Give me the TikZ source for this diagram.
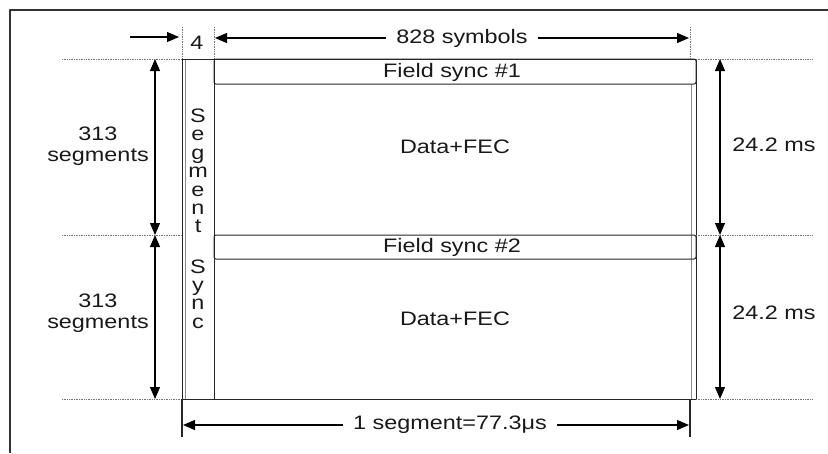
\documentclass[tikz,border=0pt]{standalone}
\usepackage{fontspec}
\setmainfont{Liberation Sans}[FakeStretch=1.2]
\usetikzlibrary{arrows.meta}
\newcommand{\lblfont}{\fontsize{19.5}{21}\selectfont}
\newcommand{\stackfont}{\fontsize{19.5}{18.4}\selectfont}
\begin{document}
\begin{tikzpicture}[x=1pt,y=-1pt,line join=round,
  frame/.style={draw=black!85,line width=1pt},
  faint/.style={draw=black!45,line width=0.9pt},
  guide/.style={draw=black!55,densely dotted,line width=0.7pt},
  tick/.style={draw=black!85,line width=1.1pt},
  dimarrow/.style={draw=black,line width=1.3pt,-{Triangle[length=12pt,width=10pt]}},
  dimboth/.style={draw=black,line width=1.3pt,{Triangle[length=12pt,width=10pt]}-{Triangle[length=12pt,width=10pt]}},
  lbl/.style={font=\lblfont,inner sep=0pt,text=black!90},
  gaplbl/.style={lbl,fill=white,inner xsep=10pt,inner ysep=2pt},
  vlbl/.style={inner sep=0pt,text=black!90,align=center,font=\stackfont},
  twoline/.style={inner sep=0pt,text=black!90,align=center,font=\lblfont}]
\useasboundingbox (0,0) rectangle (828,453);

% page frame (top and left edges only)
\draw[black!80,line width=1.5pt] (10,453) -- (10,10) -- (828,10);

% key points of the frame structure
\coordinate (TL) at (182,59);
\coordinate (SR) at (214,59);
\coordinate (TR) at (696,59);
\coordinate (ML) at (182,235);
\coordinate (MR) at (696,235);
\coordinate (BL) at (182,399);
\coordinate (BR) at (696,399);

% segment sync column
\draw[faint] (185,59) -- (185,399);
\draw[frame] (TL) rectangle (214,399);

% data area
\draw[frame] (SR) -- (TR) -- (BR) -- (BL);
\draw[faint] (691,84) -- (691,399);

% field sync rows
\draw[frame,rounded corners=2pt] (SR) rectangle (696,84);
\draw[frame,rounded corners=2pt] (214,235) rectangle (696,259);

\node[lbl] (fs1) at (452,72) {Field sync \#1};
\node[lbl] (fs2) at (452,247) {Field sync \#2};
\node[lbl] (d1) at (455,147) {Data+FEC};
\node[lbl] (d2) at (455,319) {Data+FEC};

\node[vlbl] (segword) at (198,171) {S\\e\\g\\m\\e\\n\\t};
\node[vlbl] (syncword) at (198,294) {S\\y\\n\\c};

% dotted extension lines
\draw[guide] (62,59) -- (TL);
\draw[guide] (62,235) -- (ML);
\draw[guide] (62,399) -- (BL);
\draw[guide] (TR) -- (813,59);
\draw[guide] (MR) -- (813,235);
\draw[guide] (BR) -- (813,399);

% left dimensions
\coordinate (la) at (155,59);
\coordinate (lb) at (155,235);
\coordinate (lc) at (155,399);
\draw[dimboth] (la) -- (lb);
\draw[dimboth] (lb) -- (lc);
\node[twoline] (seg1) at (98,146) {313\\segments};
\node[twoline] (seg2) at (98,313) {313\\segments};

% right dimensions
\coordinate (ra) at (720,59);
\coordinate (rb) at (720,235);
\coordinate (rc) at (720,399);
\draw[dimboth] (ra) -- (rb);
\draw[dimboth] (rb) -- (rc);
\node[lbl] (ms1) at (774,145) {24.2 ms};
\node[lbl] (ms2) at (774,313) {24.2 ms};

% top dimensions
\draw[guide] (182,27) -- (TL);
\draw[guide] (214,27) -- (SR);
\draw[guide] (690,27) -- (690,59);
\coordinate (pin) at (130,37);
\coordinate (pinend) at (179,37);
\draw[dimarrow] (pin) -- (pinend);
\node[lbl] (four) at (197,43) {4};
\node[gaplbl] (sym) at (462,38) {828 symbols};
\coordinate (symL) at (215,38);
\coordinate (symR) at (689,38);
\draw[dimarrow] (sym.west) -- (symL);
\draw[dimarrow] (sym.east) -- (symR);

% bottom dimension
\coordinate (bl2) at (182,437);
\coordinate (br2) at (690,437);
\draw[tick] (BL) -- (bl2);
\draw[tick] (690,399) -- (br2);
\node[gaplbl] (segtime) at (450,425) {1 segment=77.3μs};
\coordinate (tL) at (183,425);
\coordinate (tR) at (689,425);
\draw[dimarrow] (segtime.west) -- (tL);
\draw[dimarrow] (segtime.east) -- (tR);
\end{tikzpicture}
\end{document}
